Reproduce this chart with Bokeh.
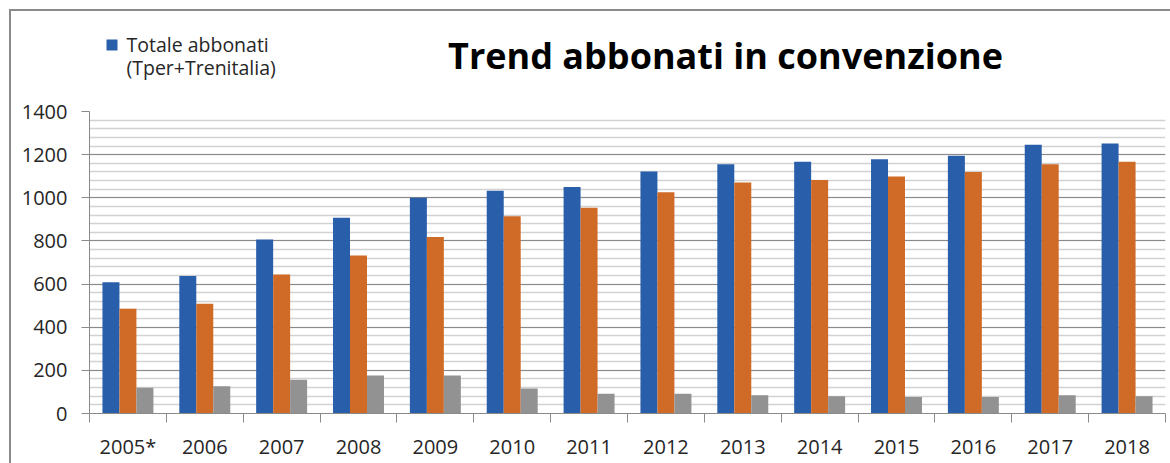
import numpy as np
from bokeh.plotting import figure
from bokeh.layouts import column
from bokeh.models import ColumnDataSource, Range1d, FixedTicker, SingleIntervalTicker, Label
from bokeh.transform import dodge
from bokeh.embed import file_html
from bokeh.resources import INLINE

# Subscriber counts per year
years = ["2005*", "2006", "2007", "2008", "2009", "2010", "2011",
         "2012", "2013", "2014", "2015", "2016", "2017", "2018"]
totale = [609, 637, 807, 908, 1000, 1033, 1050, 1122, 1156, 1167, 1179, 1195, 1246, 1252]
serie_b = [486, 509, 644, 733, 818, 914, 954, 1026, 1071, 1082, 1099, 1119, 1156, 1167]
serie_c = [119, 126, 157, 176, 176, 116, 91, 91, 85, 80, 76, 76, 85, 80]

title_text = "Trend abbonati in convenzione"
legend_lines = ["Totale abbonati", "(Tper+Trenitalia)"]

BLUE = "#285EAA"
ORANGE = "#D06A27"
GREY = "#929292"
TEXT = "#262626"
FONT = "Open Sans"

PAGE_W, PAGE_H = 1170, 463
OFF = 11                      # margin + border of the chart box
W = PAGE_W - OFF
HEAD_BOTTOM = 96              # page y where the header strip ends
HH = HEAD_BOTTOM - OFF
CH = PAGE_H - HEAD_BOTTOM
FRAME_LEFT, FRAME_RIGHT = 89, 1165
FRAME_TOP, FRAME_BOTTOM = 111, 413

# ---- header strip: title and legend, laid out in page pixel coordinates ----
head = figure(width=W, height=HH, output_backend="svg", toolbar_location=None,
              x_range=Range1d(FRAME_LEFT, FRAME_RIGHT),
              y_range=Range1d(HEAD_BOTTOM, OFF),
              x_axis_type=None, y_axis_type=None,
              min_border_left=FRAME_LEFT - OFF, min_border_right=PAGE_W - FRAME_RIGHT,
              min_border_top=0, min_border_bottom=0)
head.outline_line_color = None
head.grid.visible = False
head.background_fill_color = "white"
head.border_fill_color = "white"

head.add_layout(Label(x=725, y=55, text=title_text,
                      text_align="center", text_baseline="alphabetic",
                      text_font=FONT, text_font_style="bold", text_font_size="36px",
                      text_color="black"))
head.quad(left=[106], right=[117], top=[39], bottom=[50],
          fill_color=BLUE, line_color=None)
for i, line in enumerate(legend_lines):
    head.add_layout(Label(x=126, y=44 + 23 * i, text=line,
                          text_align="left", text_baseline="alphabetic",
                          text_font=FONT, text_font_size="19.5px", text_color=TEXT))

# ---- bar chart ----
n = len(years)
centers = np.arange(n) + 0.5
src = ColumnDataSource(dict(x=centers, a=totale, b=serie_b, c=serie_c))

p = figure(width=W, height=CH, output_backend="svg", toolbar_location=None,
           x_range=Range1d(0, n), y_range=Range1d(0, 1400),
           min_border_left=FRAME_LEFT - OFF, min_border_right=PAGE_W - FRAME_RIGHT,
           min_border_top=FRAME_TOP - HEAD_BOTTOM,
           min_border_bottom=PAGE_H - FRAME_BOTTOM)
p.outline_line_color = None
p.background_fill_color = "white"
p.border_fill_color = "white"

bw = 0.221
p.vbar(x=dodge("x", -bw, range=p.x_range), top="a", width=bw, source=src,
       fill_color=BLUE, line_color=None)
p.vbar(x=dodge("x", 0, range=p.x_range), top="b", width=bw, source=src,
       fill_color=ORANGE, line_color=None)
p.vbar(x=dodge("x", bw, range=p.x_range), top="c", width=bw, source=src,
       fill_color=GREY, line_color=None)

# y axis: major every 200, minor gridlines every 40
yt = SingleIntervalTicker(interval=200, num_minor_ticks=5)
p.yaxis.ticker = yt
p.ygrid.ticker = yt
p.ygrid.grid_line_color = "#8a8a8a"
p.ygrid.grid_line_width = 1
p.ygrid.minor_grid_line_color = "#d2d2d2"
p.ygrid.minor_grid_line_width = 1.5
p.xgrid.grid_line_color = None

p.yaxis.axis_line_color = "#8a8a8a"
p.yaxis.major_tick_line_color = "#8a8a8a"
p.yaxis.major_tick_out = 8
p.yaxis.major_tick_in = 0
p.yaxis.minor_tick_line_color = None
p.yaxis.major_label_standoff = 14
p.yaxis.major_label_text_font = FONT
p.yaxis.major_label_text_font_size = "20px"
p.yaxis.major_label_text_color = TEXT

# x axis: labels at category centres, tick marks at the boundaries
p.xaxis.ticker = FixedTicker(ticks=list(centers), minor_ticks=list(range(n + 1)))
p.xaxis.major_label_overrides = {float(c): y for c, y in zip(centers, years)}
p.xaxis.axis_line_color = "#8a8a8a"
p.xaxis.major_tick_line_color = None
p.xaxis.major_tick_out = 0
p.xaxis.major_tick_in = 0
p.xaxis.minor_tick_line_color = "#8a8a8a"
p.xaxis.minor_tick_out = 9
p.xaxis.minor_tick_in = 0
p.xaxis.major_label_standoff = 10
p.xaxis.major_label_text_font = FONT
p.xaxis.major_label_text_font_size = "20px"
p.xaxis.major_label_text_color = TEXT

layout = column(head, p, spacing=0)
layout.styles = {"margin-left": "9px", "margin-top": "9px",
                 "border-left": "2px solid #8a8a8a", "border-top": "2px solid #8a8a8a"}

open("out.html", "w").write(file_html(layout, INLINE))
